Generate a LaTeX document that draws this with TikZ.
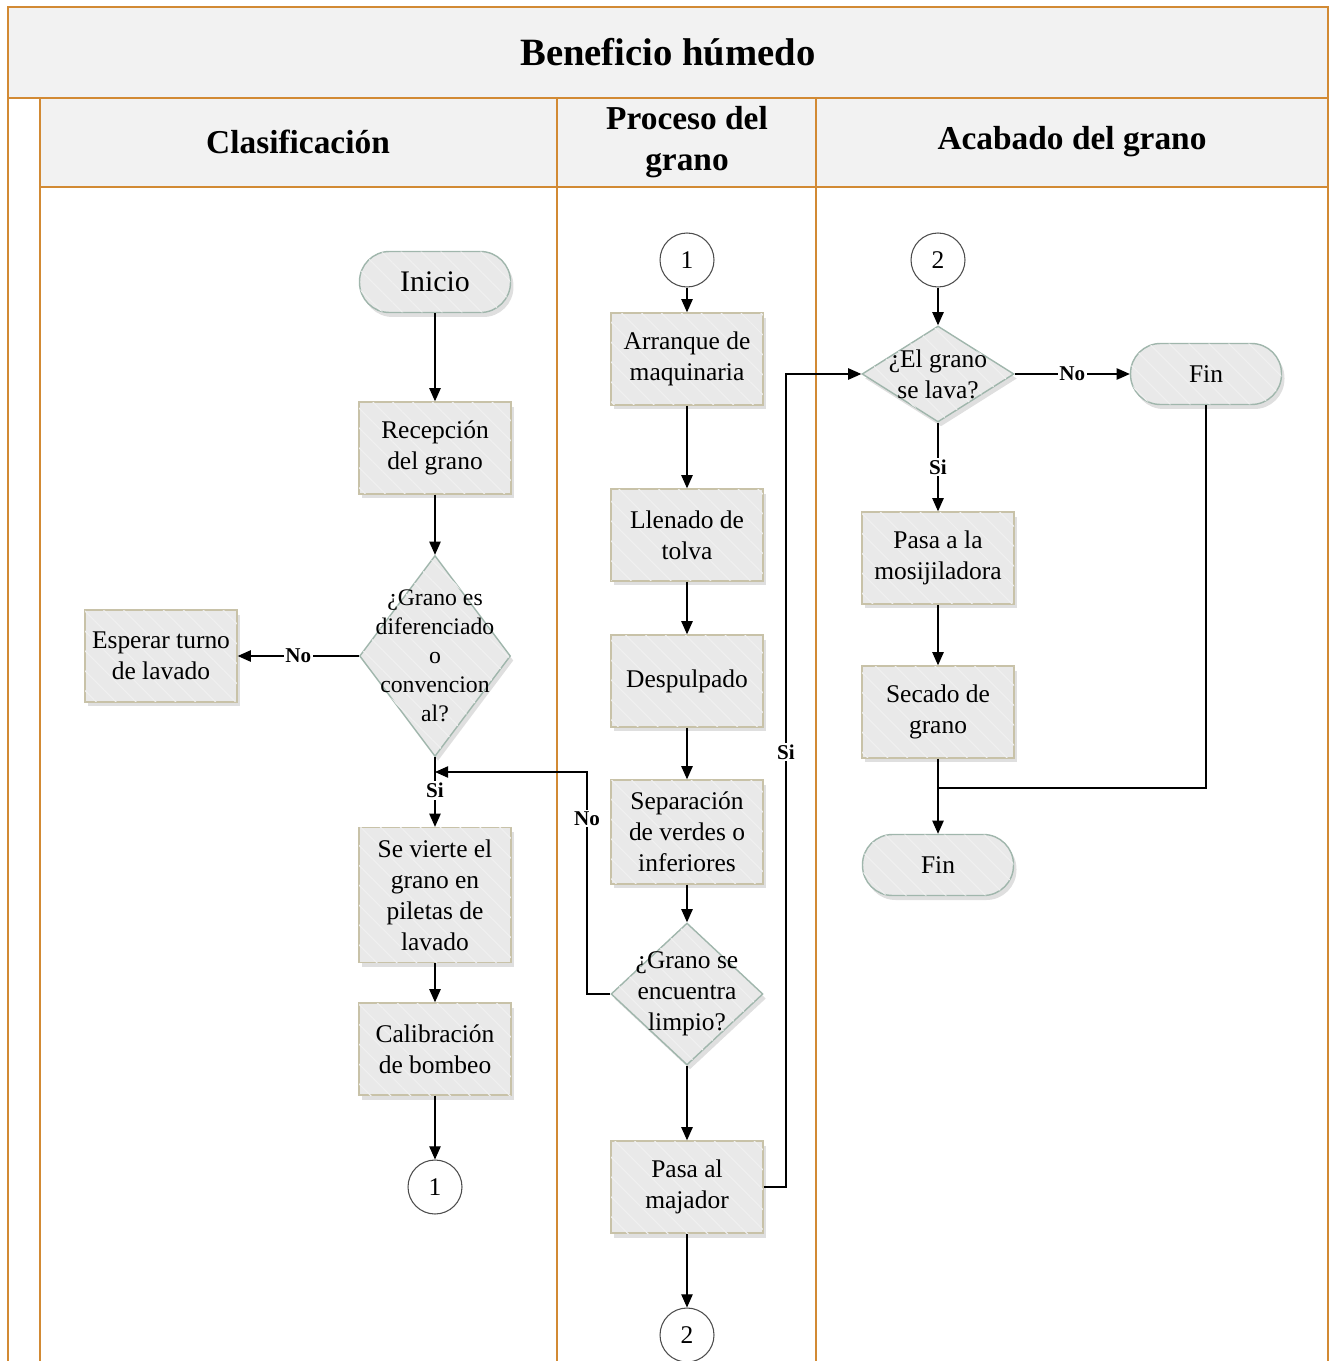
\documentclass[tikz,border=0pt]{standalone}
\usepackage{fontspec}
\setmainfont{Liberation Serif}
\usetikzlibrary{shapes.geometric,arrows.meta,shadows,patterns.meta}

\definecolor{lanecol}{RGB}{210,138,52}
\definecolor{headfill}{RGB}{242,242,242}
\definecolor{boxfill}{RGB}{233,233,233}
\definecolor{hatchcol}{RGB}{240,240,240}
\definecolor{boxline}{RGB}{200,194,168}
\definecolor{termline}{RGB}{160,182,172}

\tikzset{
  basebox/.style={fill=boxfill, align=center, inner sep=1pt,
    drop shadow={shadow xshift=0.6mm, shadow yshift=-0.9mm, opacity=0.25},
    postaction={pattern={Lines[angle=-45,distance=8pt,line width=0.6pt]}, pattern color=hatchcol},
    font=\fontsize{14.5}{17.6}\selectfont},
  procbox/.style={basebox, rectangle, draw=boxline, line width=0.8pt,
    minimum width=3.04cm, minimum height=1.84cm},
  termbox/.style={basebox, rectangle, rounded corners=0.6cm, draw=termline, line width=0.8pt,
    minimum width=3.02cm, minimum height=1.22cm},
  decbox/.style={basebox, diamond, draw=termline, line width=0.8pt, inner sep=0pt},
  dectext/.style={align=center, inner sep=0pt},
  connbox/.style={circle, draw=black!70, fill=white, line width=0.6pt, minimum size=1.08cm,
    inner sep=0pt, font=\fontsize{14.5}{17.6}\selectfont},
  lbl/.style={fill=white, inner sep=1pt, font=\bfseries\fontsize{12}{14}\selectfont},
  flow/.style={draw, line width=0.7pt, -{Triangle[length=7.5pt,width=6.5pt]}},
  lane/.style={draw=lanecol, line width=1.5pt},
  headtext/.style={align=center, font=\bfseries\fontsize{19}{23}\selectfont}
}

\begin{document}
\begin{tikzpicture}[x=0.02cm, y=-0.02cm]
  \useasboundingbox (0,0) rectangle (1336,1361);

  % lanes
  \fill[headfill] (8,7) rectangle (1328,98);
  \fill[headfill] (40,98) rectangle (1328,187);
  \draw[lane] (8,1361) -- (8,7) -- (1328,7) -- (1328,1361);
  \draw[lane] (8,98) -- (1328,98);
  \draw[lane] (40,187) -- (1328,187);
  \foreach \x in {40,557,816}
    \draw[lane] (\x,98) -- (\x,1361);

  \node[font=\bfseries\fontsize{22}{26}\selectfont] (titulo) at (668,52) {Beneficio húmedo};
  \node[headtext] (lane1) at (298,142) {Clasificación};
  \node[headtext] (lane2) at (687,142) {Proceso del\\grano};
  \node[headtext, anchor=base] (lane3) at (1072,150) {Acabado del grano};

  % clasificacion
  \node[termbox, font=\fontsize{17}{20}\selectfont] (inicio) at (435,282) {Inicio};
  \node[procbox] (recep) at (435,448) {Recepción\\del grano};
  \node[decbox, minimum width=3.02cm, minimum height=4.02cm] (dif) at (435,656) {};
  \node[dectext, font=\fontsize{13.5}{16.5}\selectfont] (diftxt) at (dif) {¿Grano es\\diferenciado\\o\\convencion\\al?};
  \node[procbox] (espera) at (161,656) {Esperar turno\\de lavado};
  \node[procbox, minimum height=2.7cm] (vierte) at (435,895) {Se vierte el\\grano en\\piletas de\\lavado};
  \node[procbox] (calib) at (435,1049) {Calibración\\de bombeo};
  \node[connbox] (c1a) at (435,1187) {1};

  % proceso
  \node[connbox] (c1b) at (687,260) {1};
  \node[procbox] (arranque) at (687,359) {Arranque de\\maquinaria};
  \node[procbox] (llenado) at (687,535) {Llenado de\\tolva};
  \node[procbox] (despulp) at (687,681) {Despulpado};
  \node[procbox, minimum height=2.08cm] (separa) at (687,832) {Separación\\de verdes o\\inferiores};
  \node[decbox, minimum width=3.04cm, minimum height=2.84cm] (limpio) at (687,994) {};
  \node[dectext, font=\fontsize{14.5}{17.6}\selectfont] (limpiotxt) at (limpio) {¿Grano se\\encuentra\\limpio?};
  \node[procbox] (majador) at (687,1187) {Pasa al\\majador};
  \node[connbox] (c2a) at (687,1335) {2};

  % acabado
  \node[connbox] (c2b) at (938,260) {2};
  \node[decbox, minimum width=3.04cm, minimum height=1.92cm] (lava) at (938,374) {};
  \node[dectext, font=\fontsize{14.5}{17.6}\selectfont] (lavatxt) at (lava) {¿El grano\\se lava?};
  \node[termbox] (fin1) at (1206,374) {Fin};
  \node[procbox] (mosij) at (938,558) {Pasa a la\\mosijiladora};
  \node[procbox] (secado) at (938,712) {Secado de\\grano};
  \node[termbox] (fin2) at (938,865) {Fin};

  \coordinate (j1) at (435,772);
  \coordinate (j2) at (938,788);

  \begin{scope}[every edge/.style={flow}]
    \path (inicio) edge (recep);
    \path (recep) edge (dif);
    \path (dif) edge node[lbl] {No} (espera);
    \path (dif) edge node[lbl, pos=0.48] {Si} (vierte);
    \path (vierte) edge (calib);
    \path (calib) edge (c1a);
    \path (c1b) edge (arranque);
    \path (arranque) edge (llenado);
    \path (llenado) edge (despulp);
    \path (despulp) edge (separa);
    \path (separa) edge (limpio);
    \path (limpio) edge (majador);
    \path (majador) edge (c2a);
    \path (c2b) edge (lava);
    \path (lava) edge node[lbl] {No} (fin1);
    \path (lava) edge node[lbl] {Si} (mosij);
    \path (mosij) edge (secado);
    \path (secado) edge (fin2);
  \end{scope}

  \draw[flow] (limpio.west) -- (587,994) -- node[lbl, pos=0.79] {No} (587,772) -- (j1);
  \draw[flow] (majador.east) -- (786,1187) -- node[lbl, pos=0.535] {Si} (786,374) -- (lava.west);
  \draw[line width=0.7pt] (fin1.south) -- (1206,788) -- (j2);

\end{tikzpicture}
\end{document}
